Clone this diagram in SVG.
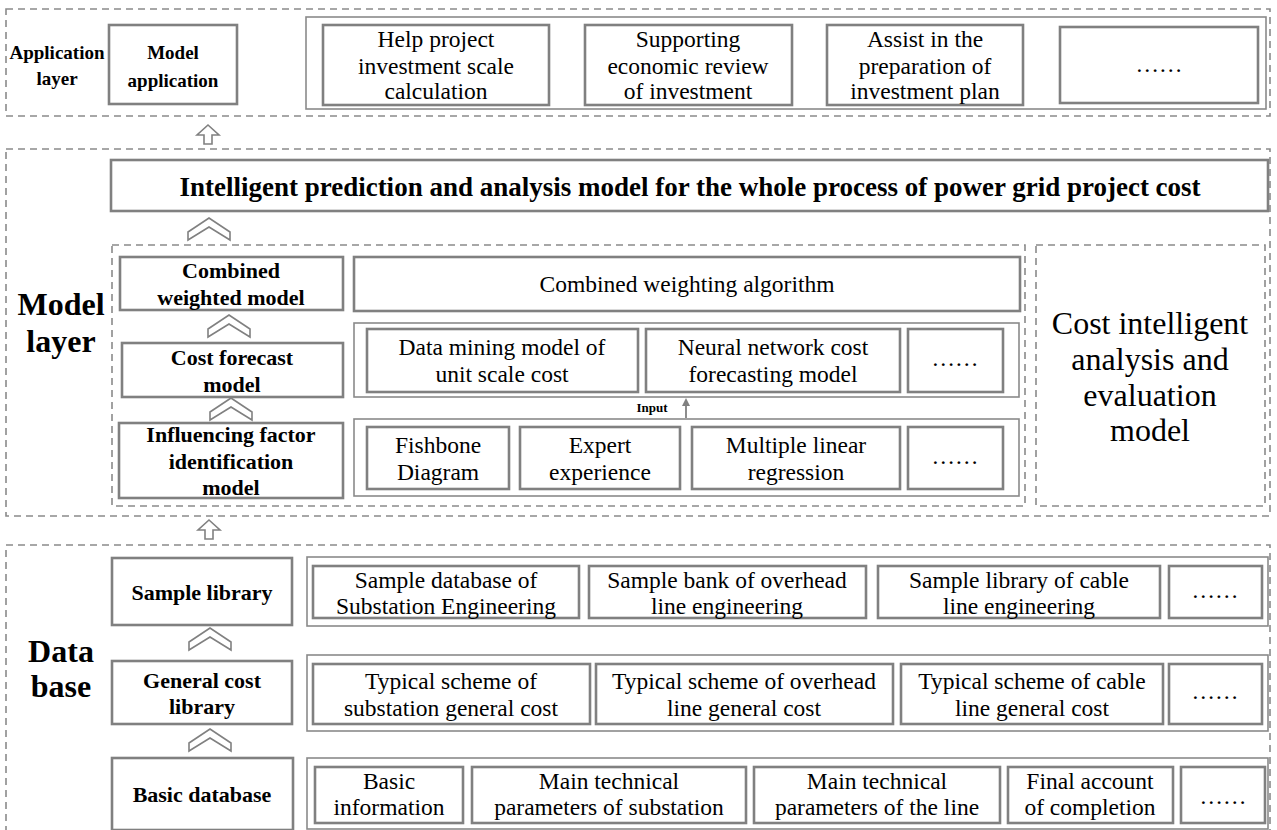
<svg xmlns="http://www.w3.org/2000/svg" width="1277" height="830" viewBox="0 0 1277 830">
<style>
.dash{fill:none;stroke:#8a8a8a;stroke-width:1.6;stroke-dasharray:7,5}
.box{fill:#fff;stroke:#808080;stroke-width:2.6}
.outer{fill:#fff;stroke:#8a8a8a;stroke-width:1.6}
text{font-family:'Liberation Serif','DejaVu Serif',serif;fill:#000;text-anchor:middle}
.t{font-size:23.5px}
.b{font-size:22px;font-weight:bold}
.s{font-size:19px;font-weight:bold}
.big{font-size:32px;font-weight:bold}
.ch{fill:#fff;stroke:#808080;stroke-width:1.6;stroke-linejoin:miter}
</style>
<defs>
<polygon id="chev" class="ch" points="-21,6 0,-8 21,6 21,14 0,1 -21,14"/>
<polygon id="uparr" class="ch" points="0,-10 11,0 4,0 4,9 -4,9 -4,0 -11,0"/>
<marker id="ah" markerWidth="8" markerHeight="8" refX="4" refY="4" orient="auto" markerUnits="userSpaceOnUse"><path d="M0,0 L8,4 L0,8 z" fill="#808080"/></marker>
</defs>

<g id="application-layer">
<rect class="dash" x="6" y="9" width="1264" height="107"/>
<text class="s" x="57" y="59">Application</text>
<text class="s" x="57" y="85">layer</text>
</g>
<g id="model-layer">
<rect class="dash" x="6" y="149" width="1264" height="367"/>
<text class="big" x="61" y="315">Model</text>
<text class="big" x="61" y="352">layer</text>
<rect class="dash" x="112" y="245" width="913" height="261"/>
</g>
<g id="data-base">
<rect class="dash" x="6" y="545" width="1264" height="290"/>
<text class="big" x="61" y="662">Data</text>
<text class="big" x="61" y="697">base</text>
</g>

<g id="model-application">
<rect class="box" x="109" y="25" width="128" height="79"/>
<text class="s" x="173" y="59">Model</text>
<text class="s" x="173" y="87">application</text>
</g>
<g id="app-items">
<rect class="outer" x="306" y="17" width="960" height="92"/>
</g>
<g id="app-help">
<rect class="box" x="323" y="25" width="226" height="80"/>
<text class="t" x="436" y="47">Help project</text>
<text class="t" x="436" y="74">investment scale</text>
<text class="t" x="436" y="99">calculation</text>
</g>
<g id="app-support">
<rect class="box" x="585" y="25" width="207" height="80"/>
<text class="t" x="688" y="47">Supporting</text>
<text class="t" x="688" y="74">economic review</text>
<text class="t" x="688" y="99">of investment</text>
</g>
<g id="app-assist">
<rect class="box" x="827" y="25" width="196" height="80"/>
<text class="t" x="925" y="47">Assist in the</text>
<text class="t" x="925" y="74">preparation of</text>
<text class="t" x="925" y="99">investment plan</text>
</g>
<g id="app-more">
<rect class="box" x="1060" y="27" width="198" height="76"/>
<text class="t" x="1159" y="72">……</text>
</g>

<g id="intelligent-model">
<rect class="box" x="111" y="160" width="1157" height="51"/>
<text class="b" x="690" y="196" style="font-size:27px">Intelligent prediction and analysis model for the whole process of power grid project cost</text>
</g>
<g id="combined-weighted-model">
<rect class="box" x="120" y="257" width="223" height="53"/>
<text class="b" x="231" y="278">Combined</text>
<text class="b" x="231" y="305">weighted model</text>
</g>
<g id="combined-weighting-algorithm">
<rect class="box" x="354" y="257" width="666" height="54"/>
<text class="t" x="687" y="292">Combined weighting algorithm</text>
</g>
<g id="cost-forecast-model">
<rect class="box" x="122" y="343" width="221" height="54"/>
<text class="b" x="232" y="365">Cost forecast</text>
<text class="b" x="232" y="392">model</text>
</g>
<g id="forecast-items">
<rect class="outer" x="354" y="323" width="665" height="74"/>
</g>
<g id="data-mining">
<rect class="box" x="367" y="329" width="271" height="63"/>
<text class="t" x="502" y="355">Data mining model of</text>
<text class="t" x="502" y="382">unit scale cost</text>
</g>
<g id="neural-network">
<rect class="box" x="646" y="329" width="254" height="63"/>
<text class="t" x="773" y="355">Neural network cost</text>
<text class="t" x="773" y="382">forecasting model</text>
</g>
<g id="forecast-more">
<rect class="box" x="908" y="329" width="95" height="63"/>
<text class="t" x="955" y="366">……</text>
</g>
<g id="influencing-factor-model">
<rect class="box" x="119" y="423" width="224" height="75"/>
<text class="b" x="231" y="442">Influencing factor</text>
<text class="b" x="231" y="469">identification</text>
<text class="b" x="231" y="495">model</text>
</g>
<g id="factor-items">
<rect class="outer" x="354" y="419" width="665" height="77"/>
</g>
<g id="fishbone">
<rect class="box" x="367" y="427" width="142" height="62"/>
<text class="t" x="438" y="453">Fishbone</text>
<text class="t" x="438" y="480">Diagram</text>
</g>
<g id="expert">
<rect class="box" x="520" y="427" width="160" height="62"/>
<text class="t" x="600" y="453">Expert</text>
<text class="t" x="600" y="480">experience</text>
</g>
<g id="regression">
<rect class="box" x="692" y="427" width="208" height="62"/>
<text class="t" x="796" y="453">Multiple linear</text>
<text class="t" x="796" y="480">regression</text>
</g>
<g id="factor-more">
<rect class="box" x="908" y="427" width="95" height="62"/>
<text class="t" x="955" y="464">……</text>
</g>
<g id="cost-intelligent-analysis">
<rect class="dash" x="1036" y="245" width="229" height="261"/>
<text class="t" x="1150" y="334" style="font-size:32px">Cost intelligent</text>
<text class="t" x="1150" y="370" style="font-size:32px">analysis and</text>
<text class="t" x="1150" y="406" style="font-size:32px">evaluation</text>
<text class="t" x="1150" y="441" style="font-size:32px">model</text>
</g>

<g id="sample-library">
<rect class="box" x="112" y="558" width="180" height="67"/>
<text class="b" x="202" y="600">Sample library</text>
</g>
<g id="sample-items">
<rect class="outer" x="307" y="557" width="961" height="69"/>
</g>
<g id="sample-substation">
<rect class="box" x="313" y="566" width="266" height="52"/>
<text class="t" x="446" y="588">Sample database of</text>
<text class="t" x="446" y="614">Substation Engineering</text>
</g>
<g id="sample-overhead">
<rect class="box" x="589" y="566" width="277" height="52"/>
<text class="t" x="727" y="588">Sample bank of overhead</text>
<text class="t" x="727" y="614">line engineering</text>
</g>
<g id="sample-cable">
<rect class="box" x="878" y="566" width="282" height="52"/>
<text class="t" x="1019" y="588">Sample library of cable</text>
<text class="t" x="1019" y="614">line engineering</text>
</g>
<g id="sample-more">
<rect class="box" x="1169" y="566" width="93" height="52"/>
<text class="t" x="1215" y="598">……</text>
</g>
<g id="general-cost-library">
<rect class="box" x="112" y="661" width="180" height="63"/>
<text class="b" x="202" y="688">General cost</text>
<text class="b" x="202" y="714">library</text>
</g>
<g id="general-items">
<rect class="outer" x="307" y="655" width="961" height="76"/>
</g>
<g id="general-substation">
<rect class="box" x="313" y="664" width="277" height="60"/>
<text class="t" x="451" y="689">Typical scheme of</text>
<text class="t" x="451" y="716">substation general cost</text>
</g>
<g id="general-overhead">
<rect class="box" x="596" y="664" width="297" height="60"/>
<text class="t" x="744" y="689">Typical scheme of overhead</text>
<text class="t" x="744" y="716">line general cost</text>
</g>
<g id="general-cable">
<rect class="box" x="901" y="664" width="262" height="60"/>
<text class="t" x="1032" y="689">Typical scheme of cable</text>
<text class="t" x="1032" y="716">line general cost</text>
</g>
<g id="general-more">
<rect class="box" x="1169" y="664" width="93" height="60"/>
<text class="t" x="1215" y="699">……</text>
</g>
<g id="basic-database">
<rect class="box" x="112" y="758" width="181" height="72"/>
<text class="b" x="202" y="802">Basic database</text>
</g>
<g id="basic-items">
<rect class="outer" x="307" y="758" width="961" height="71"/>
</g>
<g id="basic-info">
<rect class="box" x="315" y="767" width="148" height="56"/>
<text class="t" x="389" y="789">Basic</text>
<text class="t" x="389" y="815">information</text>
</g>
<g id="basic-substation">
<rect class="box" x="472" y="767" width="274" height="56"/>
<text class="t" x="609" y="789">Main technical</text>
<text class="t" x="609" y="815">parameters of substation</text>
</g>
<g id="basic-line">
<rect class="box" x="754" y="767" width="246" height="56"/>
<text class="t" x="877" y="789">Main technical</text>
<text class="t" x="877" y="815">parameters of the line</text>
</g>
<g id="basic-final">
<rect class="box" x="1008" y="767" width="165" height="56"/>
<text class="t" x="1090" y="789">Final account</text>
<text class="t" x="1090" y="815">of completion</text>
</g>
<g id="basic-more">
<rect class="box" x="1181" y="767" width="84" height="56"/>
<text class="t" x="1223" y="804">……</text>
</g>

<g id="connectors">
<use href="#uparr" x="208" y="135"/>
<use href="#chev" x="209" y="226"/>
<use href="#chev" x="229" y="323"/>
<use href="#chev" x="231" y="406"/>
<use href="#uparr" x="209" y="530"/>
<use href="#chev" x="210" y="636"/>
<use href="#chev" x="210" y="737"/>
<line x1="686" y1="418" x2="686" y2="402" stroke="#808080" stroke-width="1.8" marker-end="url(#ah)"/>
<text x="652" y="412" style="font-size:13px;font-weight:bold">Input</text>
</g>
</svg>
